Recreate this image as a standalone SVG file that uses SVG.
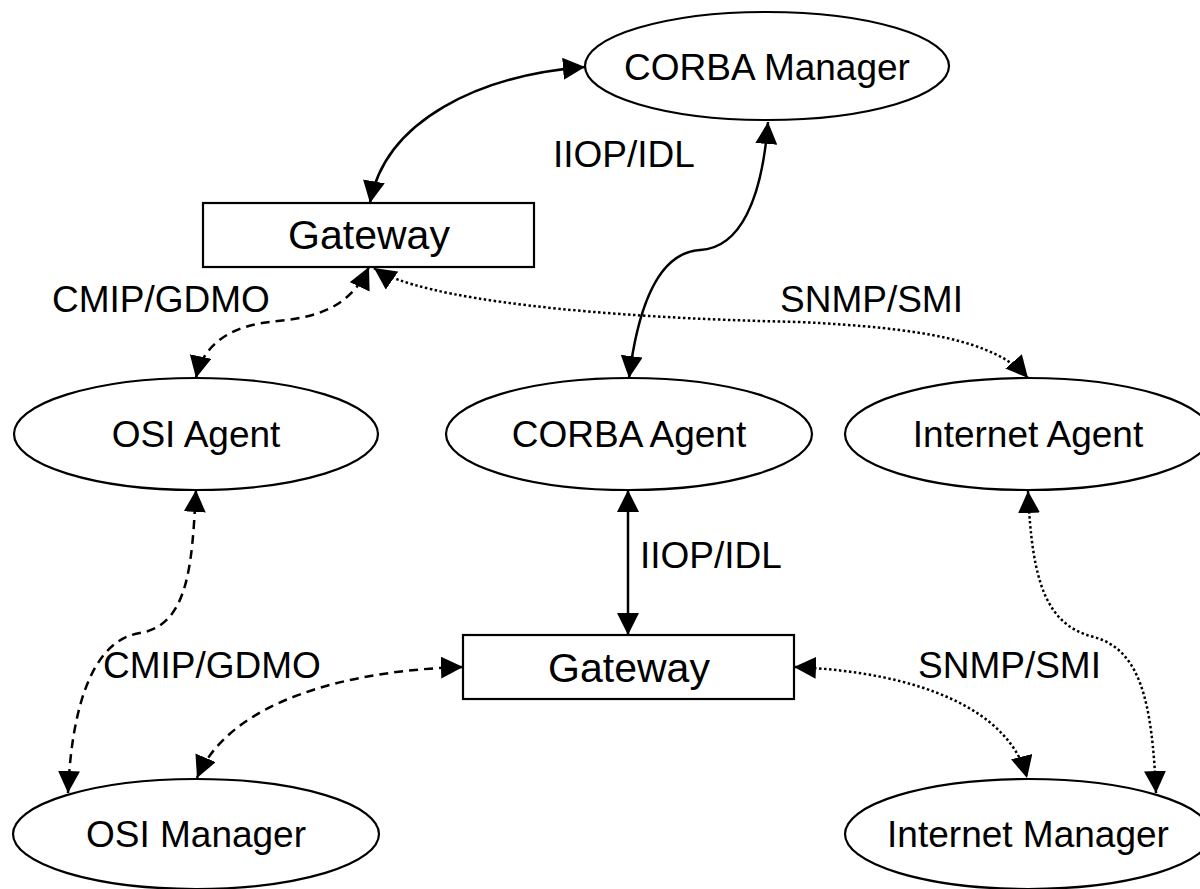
<svg xmlns="http://www.w3.org/2000/svg" width="1200" height="889" viewBox="0 0 1200 889">
<defs>
<style>
.node{fill:#fff;stroke:#000;stroke-width:2.2}
.lbl{font-family:"Liberation Sans",Arial,Helvetica,sans-serif;font-size:37px;fill:#000}
.gw{font-size:41px}
.c{text-anchor:middle}
.e{fill:none;stroke:#000;stroke-width:2.5;marker-start:url(#ah);marker-end:url(#ah)}
.dash{stroke-dasharray:9,6}
.dot{stroke-dasharray:2.5,2.5}
</style>
<marker id="ah" markerUnits="userSpaceOnUse" markerWidth="22" markerHeight="22" refX="22" refY="11" orient="auto-start-reverse" viewBox="0 0 22 22">
<path d="M0,0 L22,11 L0,22 z" fill="#000"/>
</marker>
</defs>
<rect width="1200" height="889" fill="#fff"/>
<g id="connectors">
<path class="e" d="M370,203 C385,120 480,75 585,67"/>
<path class="e" d="M768,122 C762,200 740,248 700,250 C665,252 640,290 629,378"/>
<path class="e dash" d="M369,267 C345,318 300,318 262,323 C222,330 202,350 196,378"/>
<path class="e dot" d="M374,268 C420,300 600,318 800,322 C920,328 995,340 1028,378"/>
<path class="e" d="M628,490 L628,635"/>
<path class="e dash" d="M196,490 C192,560 190,625 140,633 C95,640 72,700 68,793"/>
<path class="e dash" d="M463,667 C350,670 230,700 197,778"/>
<path class="e dot" d="M1028,491 C1032,580 1045,625 1094,637 C1140,650 1152,700 1156,793"/>
<path class="e dot" d="M794,667 C920,672 1010,710 1027,778"/>
</g>
<g id="labels">
<text class="lbl" x="553" y="167">IIOP/IDL</text>
<text class="lbl" x="52" y="312">CMIP/GDMO</text>
<text class="lbl" x="780" y="312">SNMP/SMI</text>
<text class="lbl" x="640" y="568">IIOP/IDL</text>
<text class="lbl" x="103" y="678">CMIP/GDMO</text>
<text class="lbl" x="918" y="678">SNMP/SMI</text>
</g>
<g id="corba-manager"><ellipse class="node" cx="767" cy="66" rx="182" ry="54"/><text class="lbl c" x="767" y="80">CORBA Manager</text></g>
<g id="gateway-top"><rect class="node" x="203" y="203" width="331" height="64"/><text class="lbl gw c" x="369" y="249">Gateway</text></g>
<g id="osi-agent"><ellipse class="node" cx="196" cy="434" rx="182" ry="56"/><text class="lbl c" x="196" y="447">OSI Agent</text></g>
<g id="corba-agent"><ellipse class="node" cx="629" cy="434" rx="183" ry="56"/><text class="lbl c" x="629" y="447">CORBA Agent</text></g>
<g id="internet-agent"><ellipse class="node" cx="1028" cy="434" rx="183" ry="56"/><text class="lbl c" x="1028" y="447">Internet Agent</text></g>
<g id="gateway-bottom"><rect class="node" x="463" y="635" width="331" height="64"/><text class="lbl gw c" x="629" y="682">Gateway</text></g>
<g id="osi-manager"><ellipse class="node" cx="196" cy="834" rx="183" ry="55"/><text class="lbl c" x="196" y="847">OSI Manager</text></g>
<g id="internet-manager"><ellipse class="node" cx="1028" cy="834" rx="183" ry="55"/><text class="lbl c" x="1028" y="847">Internet Manager</text></g>
</svg>
